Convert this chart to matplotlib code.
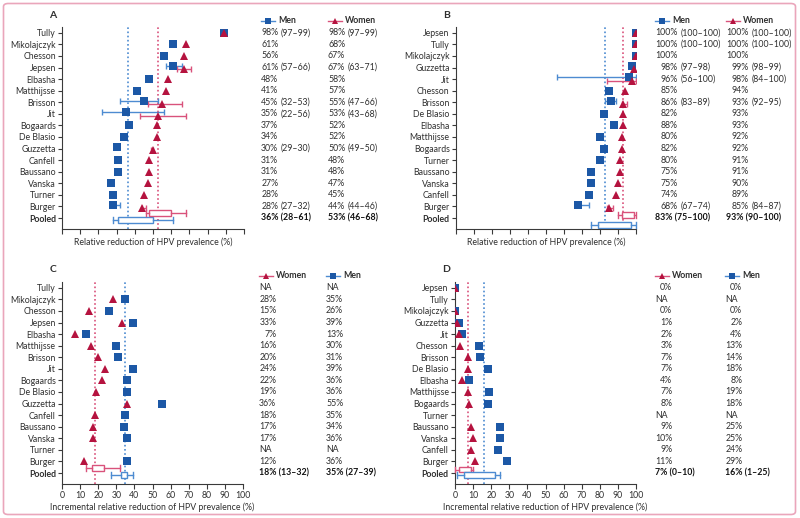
import matplotlib
matplotlib.use('Agg')
import matplotlib.pyplot as plt
import matplotlib.transforms as mtransforms
from matplotlib.patches import Rectangle, FancyBboxPatch
from matplotlib.lines import Line2D

plt.rcParams['font.family'] = ['Lato', 'DejaVu Sans']
FS = 6.3

# ---------------- data ----------------
N = None
studies_A = ["Tully", "Mikolajczyk", "Chesson", "Jepsen", "Elbasha", "Matthijsse", "Brisson", "Jit",
             "Bogaards", "De Blasio", "Guzzetta", "Canfell", "Baussano", "Vanska", "Turner", "Burger"]
studies_B = ["Jepsen", "Tully", "Mikolajczyk", "Guzzetta", "Jit", "Chesson", "Brisson", "De Blasio",
             "Elbasha", "Matthijsse", "Bogaards", "Turner", "Baussano", "Vanska", "Canfell", "Burger"]
studies_C = studies_A
studies_D = studies_B

men_A = [98, 61, 56, 61, 48, 41, 45, 35, 37, 34, 30, 31, 31, 27, 28, 28]
men_A_lo = [97, N, N, 57, N, N, 32, 22, N, N, 29, N, N, N, N, 27]
men_A_hi = [99, N, N, 66, N, N, 53, 56, N, N, 30, N, N, N, N, 32]
women_A = [98, 68, 67, 67, 58, 57, 55, 53, 52, 52, 50, 48, 48, 47, 45, 44]
women_A_lo = [97, N, N, 63, N, N, 47, 43, N, N, 49, N, N, N, N, 44]
women_A_hi = [99, N, N, 71, N, N, 66, 68, N, N, 50, N, N, N, N, 46]
tully_A_drawn = 89  # where the Tully marker is drawn in panel A

men_B = [100, 100, 100, 98, 96, 85, 86, 82, 88, 80, 82, 80, 75, 75, 74, 68]
men_B_lo = [100, 100, N, 97, 56, N, 83, N, N, N, N, N, N, N, N, 67]
men_B_hi = [100, 100, N, 98, 100, N, 89, N, N, N, N, N, N, N, N, 74]
women_B = [100, 100, 100, 99, 98, 94, 93, 93, 93, 92, 92, 91, 91, 90, 89, 85]
women_B_lo = [100, 100, N, 98, 84, N, 92, N, N, N, N, N, N, N, N, 84]
women_B_hi = [100, 100, N, 99, 100, N, 95, N, N, N, N, N, N, N, N, 87]

women_C = [N, 28, 15, 33, 7, 16, 20, 24, 22, 19, 36, 18, 17, 17, N, 12]
men_C = [N, 35, 26, 39, 13, 30, 31, 39, 36, 36, 55, 35, 34, 36, N, 36]

women_D = [0, N, 0, 1, 2, 3, 7, 7, 4, 7, 8, N, 9, 10, 9, 11]
men_D = [0, N, 0, 2, 4, 13, 14, 18, 8, 19, 18, N, 25, 25, 24, 29]

# pooled: median, range (lo, hi), box (q1, q3)
pooled_A_men = [36, 28, 61, 31, 50]
pooled_A_women = [53, 46, 68, 48, 60]
pooled_B_men = [83, 75, 100, 79, 97]
pooled_B_women = [93, 90, 100, 92, 99]
pooled_C_women = [18, 13, 32, 16.5, 23]
pooled_C_men = [35, 27, 39, 32.5, 36]
pooled_D_women = [7, 0, 10, 2, 9]
pooled_D_men = [16, 1, 25, 5, 22]

xticks = list(range(0, 101, 10))
xlabel_top = "Relative reduction of HPV prevalence (%)"
xlabel_bottom = "Incremental relative reduction of HPV prevalence (%)"

# ---------------- style ----------------
W, H = 800, 518
MEN = '#1c58a6'
MEN_L = '#4d8bd1'
WOM = '#b5133f'
WOM_L = '#d9527b'
TXT = '#2f2f2f'
AXC = '#3a3a3a'

fig = plt.figure(figsize=(W / 100, H / 100), dpi=100)
renderer = fig.canvas.get_renderer()

# pink frame
fig.add_artist(FancyBboxPatch((3.5 / W, 3.5 / H), 792 / W, 511 / H,
                              boxstyle="round,pad=0,rounding_size=0.006",
                              transform=fig.transFigure, fill=False,
                              edgecolor='#eaa6bb', linewidth=1.2))


def twidth(s, weight='normal'):
    t = fig.text(0, 0, s, fontsize=FS, fontweight=weight)
    w = t.get_window_extent(renderer).width
    t.remove()
    return w


def fmt_pct(v):
    return "NA" if v is None else f"{v}%"


def fmt_ci(lo, hi):
    return "" if lo is None else f"({lo}\u2013{hi})"


def make_panel(letter, rect_px, studies, series, pooled, cols, pooled_y, show_xticklabels, xlabel):
    x0, y0, x1, y1 = rect_px
    ax = fig.add_axes([x0 / W, 1 - y1 / H, (x1 - x0) / W, (y1 - y0) / H])
    ax.set_xlim(0, 100)
    ax.set_ylim(16.95, -0.5)
    rows = studies + ["Pooled"]
    ax.set_yticks(range(len(rows)))
    ax.set_yticklabels(rows, fontsize=FS, color=TXT)
    ax.get_yticklabels()[-1].set_fontweight('bold')
    ax.set_xticks(xticks)
    if show_xticklabels:
        ax.set_xticklabels([str(t) for t in xticks], fontsize=FS, color=TXT)
    else:
        ax.set_xticklabels([])
    ax.tick_params(axis='y', length=3, width=0.8, color=AXC, pad=1.5)
    ax.tick_params(axis='x', length=3.5, width=0.8, color=AXC, pad=1.5)
    for s in ['top', 'right']:
        ax.spines[s].set_visible(False)
    for s in ['left', 'bottom']:
        ax.spines[s].set_color(AXC)
        ax.spines[s].set_linewidth(0.8)
    ax.set_xlabel(xlabel, fontsize=FS, color=TXT, labelpad=1.5 if show_xticklabels else 1.0)
    ax.patch.set_alpha(0)

    # dotted pooled median lines
    for (vals, lo, hi, col, colL, marker, name), pl in zip(series, pooled):
        ax.axvline(pl[0], color=colL, linestyle=(0, (1, 1.5)), linewidth=1.2, zorder=1)

    for (vals, lo, hi, col, colL, marker, name) in series:
        for i, v in enumerate(vals):
            if v is None:
                continue
            has_ci = lo is not None and lo[i] is not None and hi[i] != lo[i]
            off = 0.0
            if has_ci and letter in 'AB' and not (letter == 'A' and i == 0):
                off = -0.15 if name == 'Men' else 0.15
            xv = v
            if letter == 'A' and studies[i] == 'Tully':
                xv = tully_A_drawn
                has_ci = False
            if has_ci:
                ax.errorbar(xv, i + off, xerr=[[v - lo[i]], [hi[i] - v]], fmt='none',
                            ecolor=colL, elinewidth=1.0, capsize=2.2, capthick=1.0, zorder=3)
            ms = 5.6 if marker == 's' else 6.2
            ax.plot(xv, i + off, marker=marker, color=col, markersize=ms, linestyle='none',
                    markeredgewidth=0, zorder=4 if marker == '^' else 3.5)

    # pooled boxes
    for (vals, lo, hi, col, colL, marker, name), pl, yy in zip(series, pooled, pooled_y):
        med, wlo, whi, q1, q3 = pl
        bh = 0.5
        ax.add_patch(Rectangle((q1, yy - bh / 2), q3 - q1, bh, facecolor='white',
                               edgecolor=colL, linewidth=1.0, zorder=3))
        ax.plot([wlo, q1], [yy, yy], color=colL, linewidth=1.0, zorder=3)
        ax.plot([q3, whi], [yy, yy], color=colL, linewidth=1.0, zorder=3)
        for xx in (wlo, whi):
            ax.plot([xx, xx], [yy - 0.25, yy + 0.25], color=colL, linewidth=1.0, zorder=3,
                    clip_on=False)

    # panel letter
    fig.text((x0 - 9) / W, 1 - (y0 - 12) / H, letter, fontsize=7.5, fontweight='bold',
             color=TXT, ha='center', va='center')

    # text columns
    tr = mtransforms.blended_transform_factory(fig.transFigure, ax.transData)
    for (vals, lo, hi, col, colL, marker, name), pl, cx in zip(series, pooled, cols):
        pcts = [fmt_pct(v) for v in vals if v is not None]
        maxw = max(twidth(p) for p in pcts)
        right = cx + maxw
        gap = twidth("0") * 0.55
        for i, v in enumerate(vals):
            if v is None:
                ax.text(cx / W, i, "NA", transform=tr, fontsize=FS, color=TXT,
                        ha='left', va='center', clip_on=False)
                continue
            ax.text(right / W, i, fmt_pct(v), transform=tr, fontsize=FS, color=TXT,
                    ha='right', va='center', clip_on=False)
            ci = fmt_ci(lo[i], hi[i]) if lo is not None else ""
            if ci:
                ax.text((right + gap) / W, i, ci, transform=tr, fontsize=FS, color=TXT,
                        ha='left', va='center', clip_on=False)
        med, wlo, whi, q1, q3 = pl
        ax.text(cx / W, 16, f"{med}% ({wlo}\u2013{whi})", transform=tr, fontsize=FS,
                color='#111111', fontweight='bold', ha='left', va='center', clip_on=False)
        # legend entry
        ly = -1.05
        fig.add_artist(Line2D([cx / W, (cx + 14) / W], [ly, ly], transform=tr, color=colL,
                              linewidth=1.0))
        fig.add_artist(Line2D([(cx + 7) / W], [ly], transform=tr, color=col, marker=marker,
                              markersize=4.5 if marker == 's' else 5, markeredgewidth=0,
                              linestyle='none'))
        ax.text((cx + 17) / W, ly, name, transform=tr, fontsize=FS, fontweight='bold',
                color=TXT, ha='left', va='center', clip_on=False)
    return ax


make_panel('A', (62, 27, 244, 229), studies_A,
           [(men_A, men_A_lo, men_A_hi, MEN, MEN_L, 's', 'Men'),
            (women_A, women_A_lo, women_A_hi, WOM, WOM_L, '^', 'Women')],
           [pooled_A_men, pooled_A_women], [261, 328], [16.15, 15.55], False, xlabel_top)

make_panel('B', (456, 27, 636, 229), studies_B,
           [(men_B, men_B_lo, men_B_hi, MEN, MEN_L, 's', 'Men'),
            (women_B, women_B_lo, women_B_hi, WOM, WOM_L, '^', 'Women')],
           [pooled_B_men, pooled_B_women], [655, 726], [16.6, 15.75], False, xlabel_top)

make_panel('C', (62, 282, 243, 484), studies_C,
           [(women_C, None, None, WOM, WOM_L, '^', 'Women'),
            (men_C, None, None, MEN, MEN_L, 's', 'Men')],
           [pooled_C_women, pooled_C_men], [259, 326], [15.6, 16.2], True, xlabel_bottom)

make_panel('D', (455, 282, 636, 484), studies_D,
           [(women_D, None, None, WOM, WOM_L, '^', 'Women'),
            (men_D, None, None, MEN, MEN_L, 's', 'Men')],
           [pooled_D_women, pooled_D_men], [655, 725], [15.7, 16.2], True, xlabel_bottom)

fig.savefig('out.png', dpi=100)
